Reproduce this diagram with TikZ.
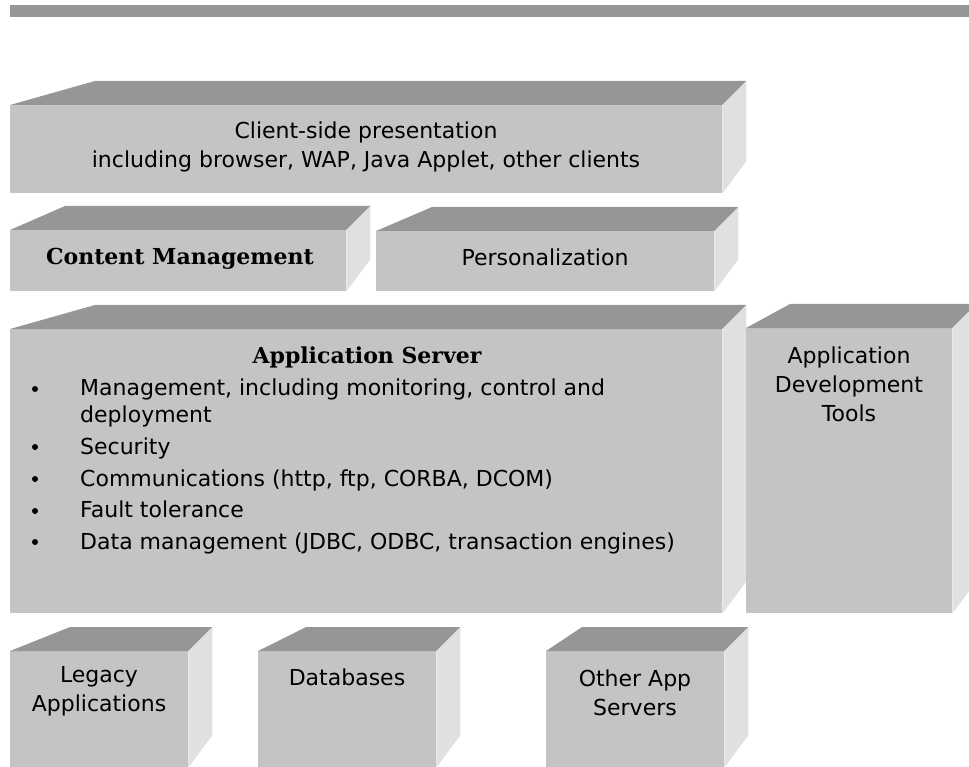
\documentclass[tikz,border=0pt]{standalone}
\usepackage{fontspec}
\setmainfont{DejaVu Sans}
\newfontfamily\bserif{DejaVu Serif}
\usetikzlibrary{calc}
\definecolor{frontc}{RGB}{196,196,196}
\definecolor{topc}{RGB}{150,150,150}
\definecolor{sidec}{RGB}{224,224,224}
\tikzset{
  front/.style={fill=frontc, draw=none, inner sep=0pt, anchor=north west},
  txt/.style={inner sep=0pt, align=center, font=\fontsize{22}{29}\selectfont},
  btxt/.style={inner sep=0pt, font=\bserif\bfseries\fontsize{22}{26}\selectfont},
  ltxt/.style={inner sep=0pt, anchor=base west, font=\fontsize{22}{26}\selectfont},
  dot/.style={circle, fill=black, inner sep=0pt, minimum size=6pt},
}
% \cubebox{name}{x0}{y0}{w}{h}{left offset}
\newcommand{\cubebox}[6]{%
  \node[front, minimum width=#4pt, minimum height=#5pt] (#1) at (#2,#3) {};
  \fill[topc] (#1.north west) -- ++(#6,-24) -- ($(#1.north east)+(24,-24)$) -- (#1.north east) -- cycle;
  \fill[sidec] (#1.north east) -- ++(24,-24) -- ($(#1.south east)+(24,-32)$) -- (#1.south east) -- cycle;
}
\begin{document}
\begin{tikzpicture}[x=1pt,y=-1pt]
\useasboundingbox (0,0) rectangle (969,767);
\node[fill=topc, inner sep=0pt, minimum width=959pt, minimum height=12pt, anchor=north west] (bar) at (10,5) {};
\cubebox{cs}{10}{105}{712}{88}{85}
\cubebox{cm}{10}{230}{336}{61}{55}
\cubebox{pe}{376}{231}{338}{60}{56}
\cubebox{as}{10}{329}{712}{284}{85}
\cubebox{ad}{746}{328}{206}{285}{44}
\cubebox{la}{10}{651}{178}{116}{60}
\cubebox{db}{258}{651}{178}{116}{48}
\cubebox{oa}{546}{651}{178}{116}{36}

\node[txt] (cst) at (366,147) {Client-side presentation\\including browser, WAP, Java Applet, other clients};
\node[btxt] (cmt) at (180,259) {Content Management};
\node[txt] (pet) at (545,257) {Personalization};
\node[btxt] (ast) at (367,357) {Application Server};
\node[txt] (adt) at (849,384) {Application\\Development\\Tools};
\node[txt] (lat) at (99,691) {Legacy\\Applications};
\node[txt] (dbt) at (347,677) {Databases};
\node[txt] (oat) at (635,693) {Other App\\Servers};

\node[dot] (b1) at (35,389) {};
\node[dot] (b2) at (35,447) {};
\node[dot] (b3) at (35,479) {};
\node[dot] (b4) at (35,511) {};
\node[dot] (b5) at (35,542) {};
\node[ltxt] (l1) at (80,395) {Management, including monitoring, control and};
\node[ltxt] (l1b) at (80,422) {deployment};
\node[ltxt] (l2) at (80,454) {Security};
\node[ltxt] (l3) at (80,486) {Communications (http, ftp, CORBA, DCOM)};
\node[ltxt] (l4) at (80,517) {Fault tolerance};
\node[ltxt] (l5) at (80,549) {Data management (JDBC, ODBC, transaction engines)};
\end{tikzpicture}
\end{document}
